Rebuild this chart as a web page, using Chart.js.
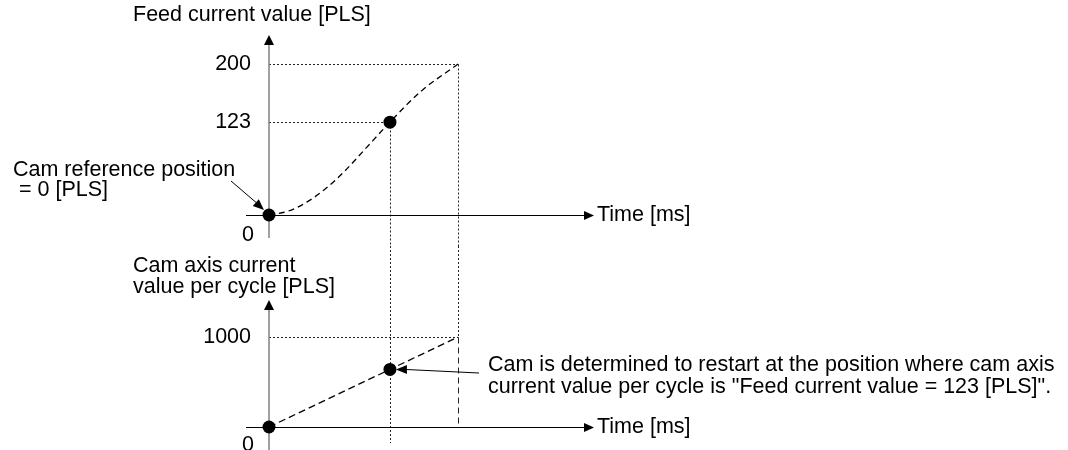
<!DOCTYPE html>
<html>
<head>
<meta charset="utf-8">
<title>Cam restart position</title>
<script src="https://cdn.jsdelivr.net/npm/chart.js@4.4.0/dist/chart.umd.min.js"></script>
<style>
  html, body { margin: 0; padding: 0; background: #fff; }
  #wrap { position: relative; width: 1068px; height: 450px; overflow: hidden; }
  canvas { position: absolute; left: 0; }
  #feedChart { top: 0; }
  #camChart { top: 246px; }
</style>
</head>
<body>
<div id="wrap">
  <canvas id="feedChart" width="1068" height="246"></canvas>
  <canvas id="camChart" width="1068" height="204"></canvas>
</div>
<script>
// time has no scale in the drawing, so it is kept relative (0 .. 100 ms)
const feedTime = [0, 10, 20, 30, 40, 50, 64, 80, 100];
const feedValue = [0, 5, 17, 35, 58, 85, 123, 163, 200];
const camTime = [0, 64, 100];
const camValue = [0, 640, 1000];
const markedTimes = [0, 64];
const feedTicks = [0, 123, 200];
const camTicks = [0, 1000];
const restartTime = 64;
const endTime = 100;

const FONT = '21.5px "Liberation Sans", Arial, sans-serif';

// snap to the pixel grid so thin lines stay crisp
function px(v) { return Math.round(v) + 0.5; }

function line(ctx, x1, y1, x2, y2) {
    ctx.beginPath();
    ctx.moveTo(x1, y1);
    ctx.lineTo(x2, y2);
    ctx.stroke();
}

// filled triangle with its tip at (x, y), pointing along angle
function arrowHead(ctx, x, y, angle, len, half) {
    const c = Math.cos(angle), s = Math.sin(angle);
    const bx = x - c * len, by = y - s * len;
    ctx.beginPath();
    ctx.moveTo(x, y);
    ctx.lineTo(bx - s * half, by + c * half);
    ctx.lineTo(bx + s * half, by - c * half);
    ctx.closePath();
    ctx.fillStyle = '#000';
    ctx.fill();
}

function drawAxes(ctx, x0, y0, yTip, yEnd) {
    // vertical axis, grey with black head
    ctx.strokeStyle = '#808080';
    ctx.lineWidth = 1.5;
    line(ctx, x0, yTip + 6, x0, yEnd);
    arrowHead(ctx, x0, yTip, -Math.PI / 2, 10, 5);
    // time axis
    ctx.strokeStyle = '#000';
    ctx.lineWidth = 1.2;
    line(ctx, x0 - 23, y0, x0 + 318, y0);
    arrowHead(ctx, x0 + 325, y0, 0, 10, 4.5);
}

function drawText(ctx, lines, x, y, align, gap) {
    ctx.font = FONT;
    ctx.fillStyle = '#000';
    ctx.textAlign = align;
    ctx.textBaseline = 'middle';
    lines.forEach(function (t, i) { ctx.fillText(t, x, y + i * gap); });
}

const feedDecor = {
    id: 'feedDecor',
    beforeDatasetsDraw: function (chart) {
        const ctx = chart.ctx, xs = chart.scales.x, ys = chart.scales.y;
        const x0 = xs.getPixelForValue(0), y0 = ys.getPixelForValue(0);
        const xr = px(xs.getPixelForValue(restartTime)), xe = px(xs.getPixelForValue(endTime));
        const yr = px(ys.getPixelForValue(feedValue[feedTime.indexOf(restartTime)]));
        const ye = px(ys.getPixelForValue(feedValue[feedTime.indexOf(endTime)]));
        ctx.save();
        ctx.strokeStyle = '#222';
        ctx.lineWidth = 1;
        ctx.setLineDash([2, 2]);
        line(ctx, x0, ye, xe, ye);
        line(ctx, xe, ye, xe, chart.height);
        line(ctx, x0, yr, xr, yr);
        line(ctx, xr, yr, xr, chart.height);
        ctx.setLineDash([]);
        drawAxes(ctx, x0, px(y0), 35, y0 + 23);
        ctx.restore();
    },
    afterDatasetsDraw: function (chart) {
        const ctx = chart.ctx, xs = chart.scales.x, ys = chart.scales.y;
        const x0 = xs.getPixelForValue(0), y0 = ys.getPixelForValue(0);
        ctx.save();
        feedTicks.forEach(function (v) {
            if (v === 0) drawText(ctx, ['0'], x0 - 21, y0 + 20, 'center', 0);
            else drawText(ctx, [String(v)], x0 - 18, ys.getPixelForValue(v), 'right', 0);
        });
        drawText(ctx, ['Feed current value [PLS]'], 133, 15, 'left', 0);
        drawText(ctx, ['Cam reference position', ' = 0 [PLS]'], 13, 170, 'left', 20);
        drawText(ctx, ['Time [ms]'], x0 + 328, y0, 'left', 0);
        // leader to the reference point
        ctx.strokeStyle = '#000';
        ctx.lineWidth = 1;
        line(ctx, 231, 181, x0 - 10, y0 - 10);
        arrowHead(ctx, x0 - 5, y0 - 5, Math.atan2(y0 - 181, x0 - 231), 11, 4.5);
        ctx.restore();
    }
};

const camDecor = {
    id: 'camDecor',
    beforeDatasetsDraw: function (chart) {
        const ctx = chart.ctx, xs = chart.scales.x, ys = chart.scales.y;
        const x0 = xs.getPixelForValue(0), y0 = ys.getPixelForValue(0);
        const xr = px(xs.getPixelForValue(restartTime)), xe = px(xs.getPixelForValue(endTime));
        const ye = px(ys.getPixelForValue(camTicks[camTicks.length - 1]));
        ctx.save();
        ctx.strokeStyle = '#222';
        ctx.lineWidth = 1;
        ctx.setLineDash([2, 2]);
        line(ctx, x0, ye, xe, ye);
        line(ctx, xe, 0, xe, ye);
        line(ctx, xr, 0, xr, y0 + 16);
        ctx.setLineDash([6, 4]);
        line(ctx, xe, ye, xe, y0);
        ctx.setLineDash([]);
        drawAxes(ctx, x0, px(y0), 54, chart.height);
        ctx.restore();
    },
    afterDatasetsDraw: function (chart) {
        const ctx = chart.ctx, xs = chart.scales.x, ys = chart.scales.y;
        const x0 = xs.getPixelForValue(0), y0 = ys.getPixelForValue(0);
        const xr = xs.getPixelForValue(restartTime);
        const yr = ys.getPixelForValue(camValue[camTime.indexOf(restartTime)]);
        ctx.save();
        camTicks.forEach(function (v) {
            if (v === 0) drawText(ctx, ['0'], x0 - 21, y0 + 18, 'center', 0);
            else drawText(ctx, [String(v)], x0 - 18, ys.getPixelForValue(v), 'right', 0);
        });
        drawText(ctx, ['Cam axis current', 'value per cycle [PLS]'], 133, 20, 'left', 21);
        drawText(ctx, ['Time [ms]'], x0 + 328, y0, 'left', 0);
        drawText(ctx, ['Cam is determined to restart at the position where cam axis',
            'current value per cycle is "Feed current value = 123 [PLS]".'], 488, 119, 'left', 22);
        // leader to the restart point
        ctx.strokeStyle = '#000';
        ctx.lineWidth = 1;
        line(ctx, 479, 127, xr + 14, yr);
        arrowHead(ctx, xr + 6, yr, Math.PI, 11, 4.5);
        ctx.restore();
    }
};

function makeChart(id, times, values, yMax, pad, decor, dash, curve) {
    return new Chart(document.getElementById(id), {
        type: 'line',
        data: {
            datasets: [{
                data: times.map(function (t, i) { return { x: t, y: values[i] }; }),
                borderColor: '#000',
                borderWidth: 1.3,
                borderDash: dash,
                cubicInterpolationMode: curve ? 'monotone' : 'default',
                tension: 0,
                fill: false,
                clip: false,
                pointBackgroundColor: '#000',
                pointBorderWidth: 0,
                pointRadius: function (c) { return markedTimes.indexOf(times[c.dataIndex]) >= 0 ? 6.5 : 0; }
            }]
        },
        options: {
            responsive: false,
            animation: false,
            events: [],
            layout: { padding: pad },
            plugins: { legend: { display: false }, tooltip: { enabled: false } },
            scales: {
                x: { type: 'linear', display: false, min: 0, max: endTime },
                y: { type: 'linear', display: false, min: 0, max: yMax }
            }
        },
        plugins: [decor]
    });
}

makeChart('feedChart', feedTime, feedValue, 200,
    { left: 269, right: 610, top: 64, bottom: 31 }, feedDecor, [6, 4], true);
makeChart('camChart', camTime, camValue, 1000,
    { left: 269, right: 610, top: 91, bottom: 23 }, camDecor, [7, 4], false);
</script>
</body>
</html>
